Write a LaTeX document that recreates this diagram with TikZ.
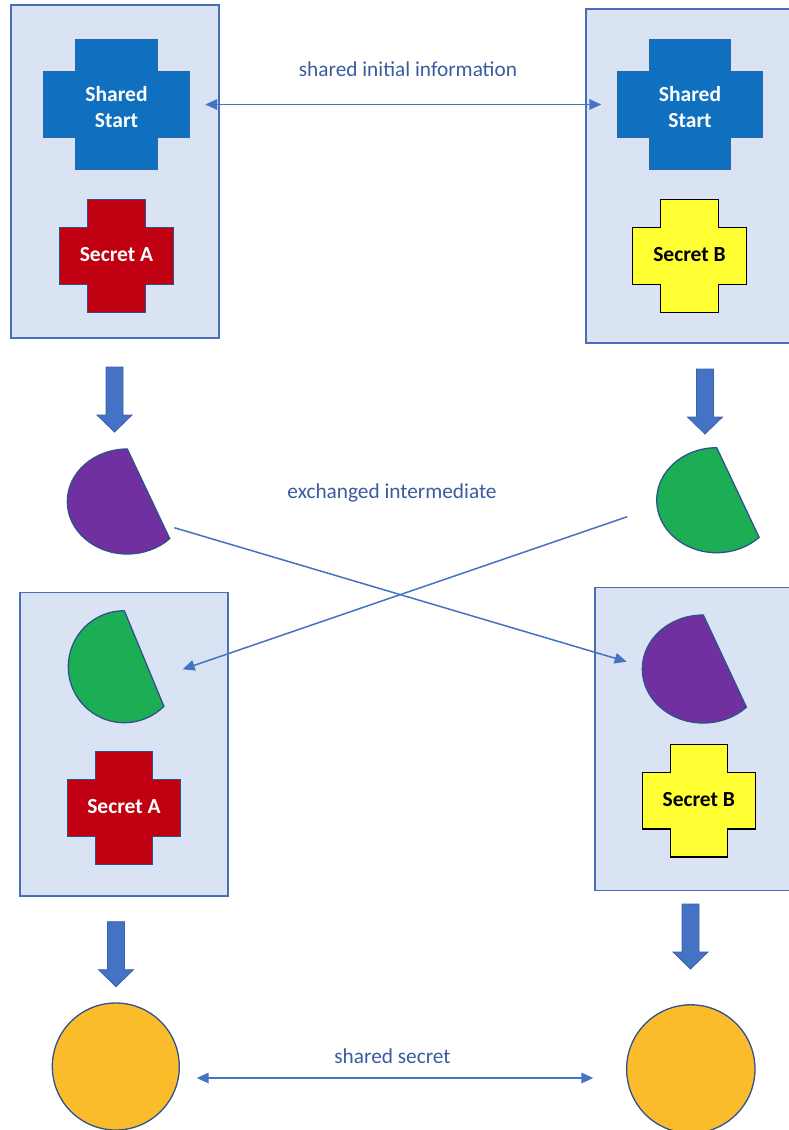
\documentclass[tikz,border=0pt]{standalone}
\usepackage{fontspec}
\setmainfont{Carlito}
\usetikzlibrary{arrows.meta}

\pgfdeclarelayer{boxes}
\pgfdeclarelayer{shapes}
\pgfsetlayers{boxes,shapes,main}

\definecolor{panelfill}{HTML}{DAE3F3}
\definecolor{panelline}{HTML}{4A6FB8}
\definecolor{startblue}{HTML}{1070C0}
\definecolor{startedge}{HTML}{2A66A8}
\definecolor{secretred}{HTML}{C00010}
\definecolor{secretyellow}{HTML}{FFFF33}
\definecolor{chordpurple}{HTML}{7030A0}
\definecolor{chordgreen}{HTML}{1BAE54}
\definecolor{sharedgold}{HTML}{FBBC2C}
\definecolor{edgeblue}{HTML}{2F528F}
\definecolor{labelblue}{HTML}{3B5BA0}
\definecolor{arrowblue}{HTML}{4472C4}

\tikzset{
  ptr/.tip={Triangle[length=12pt,width=10.5pt]},
  panel/.style={draw=panelline, fill=panelfill, line width=1.4pt},
  bigcross/.style={minimum width=145pt, minimum height=129pt, inner sep=0pt,
    align=center, text=white, font=\fontsize{21.5}{26}\selectfont\bfseries},
  smallcross/.style={minimum width=113pt, minimum height=112pt, inner sep=0pt,
    align=center, font=\fontsize{21.5}{26}\selectfont\bfseries},
  startfill/.style={fill=startblue, draw=startedge, line width=1pt},
  redfill/.style={fill=secretred, draw=edgeblue, line width=1.2pt},
  yellowfill/.style={fill=secretyellow, draw=black, line width=1.2pt, line join=miter},
  chordline/.style={draw=edgeblue, line width=1.3pt},
  keycircle/.style={circle, draw=edgeblue, fill=sharedgold, line width=1.3pt, inner sep=0pt},
  caption/.style={text=labelblue, font=\fontsize{21.3}{25}\selectfont},
  link/.style={draw=arrowblue, line width=1.5pt, -{ptr}},
  twoway/.style={draw=arrowblue, line width=1.5pt, {ptr}-{ptr}},
  blockarrow/.style={fill=arrowblue, draw=arrowblue!85!black, line width=0.8pt},
  downarrow/.pic={
    \path[blockarrow] (-8.5pt,0pt) -- (8.5pt,0pt) -- (8.5pt,-48pt) -- (17.5pt,-48pt)
      -- (0pt,-65pt) -- (-17.5pt,-48pt) -- (-8.5pt,-48pt) -- cycle;
  }
}

% Plus-shaped outline around a named node:
% #1 node, #2 inset, #3 style, #4 vertical offset of the outline from the node
\newcommand\drawcrossof[4]{%
  \begin{pgfonlayer}{shapes}
  \path[#3] ([xshift=#2,yshift=#4]#1.north west) -- ([xshift=-#2,yshift=#4]#1.north east)
    -- ([xshift=-#2,yshift=-#2+#4]#1.north east) -- ([yshift=-#2+#4]#1.north east)
    -- ([yshift=#2+#4]#1.south east) -- ([xshift=-#2,yshift=#2+#4]#1.south east)
    -- ([xshift=-#2,yshift=#4]#1.south east) -- ([xshift=#2,yshift=#4]#1.south west)
    -- ([xshift=#2,yshift=#2+#4]#1.south west) -- ([yshift=#2+#4]#1.south west)
    -- ([yshift=-#2+#4]#1.north west) -- ([xshift=#2,yshift=-#2+#4]#1.north west) -- cycle;
  \end{pgfonlayer}}

% Ellipse segment cut by a chord: #1 centre, #2 x radius, #3 y radius, #4 fill
\newcommand\drawchordat[4]{%
  \begin{pgfonlayer}{shapes}
  \path[chordline, fill=#4] ([yshift=#3]#1)
    arc[start angle=90, end angle=315, x radius=#2, y radius=#3] -- cycle;
  \end{pgfonlayer}}

\begin{document}
\begin{tikzpicture}[x=1pt, y=-1pt]
  \useasboundingbox (0,0) rectangle (789,1130);
  \clip (0,0) rectangle (789,1130);

  % party panels
  \begin{pgfonlayer}{boxes}
    \path[panel] (11,5) rectangle (219,338);
    \path[panel] (586,9) rectangle (800,343);
    \path[panel] (20,592.7) rectangle (228,896);
    \path[panel] (595,587.3) rectangle (800,890.7);
  \end{pgfonlayer}

  % starting values
  \node[bigcross] (startA) at (116.5,107.5) {Shared\\Start};
  \node[bigcross] (startB) at (690,107.5) {Shared\\Start};
  \drawcrossof{startA}{32pt}{startfill}{3pt}
  \drawcrossof{startB}{32pt}{startfill}{3pt}

  \node[smallcross, text=white] (secA) at (116.5,254.5) {Secret A};
  \node[smallcross, text=black] (secB) at (689.5,254.5) {Secret B};
  \drawcrossof{secA}{28pt}{redfill}{-1.5pt}
  \drawcrossof{secB}{28pt}{yellowfill}{-1.5pt}

  \node[smallcross, text=white] (secA2) at (124,807) {Secret A};
  \node[smallcross, text=black] (secB2) at (698.8,800) {Secret B};
  \drawcrossof{secA2}{28pt}{redfill}{-1pt}
  \drawcrossof{secB2}{28pt}{yellowfill}{-0.8pt}

  % intermediate values
  \coordinate (pubA) at (127.3,501.5);
  \coordinate (pubB) at (716.7,500.2);
  \coordinate (pubBin) at (124.3,666.7);
  \coordinate (pubAin) at (703.3,669);
  \drawchordat{pubA}{60pt}{52.5pt}{chordpurple}
  \drawchordat{pubB}{60pt}{52.5pt}{chordgreen}
  \drawchordat{pubBin}{56pt}{56pt}{chordgreen}
  \drawchordat{pubAin}{61pt}{54pt}{chordpurple}

  % shared results
  \node[keycircle, minimum size=127pt] (keyA) at (115.8,1066.5) {};
  \node[keycircle, minimum size=128.4pt] (keyB) at (690.8,1069) {};

  % derivation steps
  \begin{pgfonlayer}{shapes}
    \pic at (114.5,367) {downarrow};
    \pic at (705,369) {downarrow};
    \pic at (116,921.7) {downarrow};
    \pic at (690.5,904) {downarrow};
  \end{pgfonlayer}

  % exchanges
  \draw[twoway, shorten <=16pt, shorten >=16pt]
    ([yshift=3pt]startA.east) -- ([yshift=3pt]startB.west);
  \node[caption] (capStart) at (408,69) {shared initial information};

  \coordinate (sendA) at (174.3,527.7);
  \coordinate (recvA) at (626.7,661.7);
  \coordinate (sendB) at (627.3,516.7);
  \coordinate (recvB) at (182.7,669.3);
  \draw[link] (sendA) -- (recvA);
  \draw[link] (sendB) -- (recvB);
  \node[caption] (capMid) at (392,493) {exchanged intermediate};

  \coordinate (keyAend) at (196.7,1078);
  \coordinate (keyBend) at (593.3,1078);
  \draw[twoway] (keyAend) -- (keyBend);
  \node[caption] (capKey) at (392.5,1055.7) {shared secret};
\end{tikzpicture}
\end{document}
